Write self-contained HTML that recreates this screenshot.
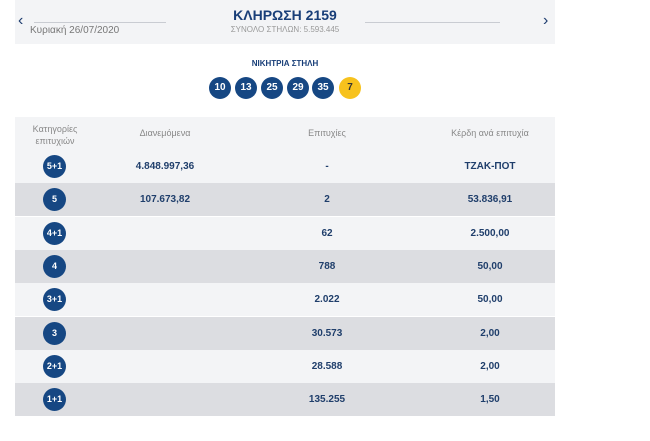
<!DOCTYPE html>
<html><head><meta charset="utf-8"><style>
body{margin:0;width:650px;height:441px;background:#fff;font-family:"Liberation Sans","DejaVu Sans",sans-serif;position:relative;overflow:hidden}
.a{position:absolute}
.hdr{left:15px;top:0;width:540px;height:44px;background:#f3f4f6}
.nav{color:#1d3c6e;font-size:16px;top:12px}
.title{left:0;width:570px;text-align:center;top:7px;font-weight:bold;color:#183e78;font-size:14px}
.sub{left:0;width:570px;text-align:center;top:25px;font-size:8px;color:#999}
.ball{width:22px;height:22px;border-radius:50%;background:#164783;color:#fff;font-weight:bold;font-size:10px;text-align:center;line-height:22px;top:77px}
.row{left:15px;width:540px;height:33px}
.cell{position:absolute;top:0;height:33px;line-height:33px;font-size:10px;font-weight:bold;color:#1f3e6b;text-align:center}
.cat{position:absolute;left:28px;top:5px;width:23px;height:23px;border-radius:50%;background:#164783;color:#fff;font-size:9px;font-weight:bold;text-align:center;line-height:23px}
.hc{position:absolute;font-size:9px;color:#888;text-align:center}
</style></head><body>
<div class="a hdr"></div>
<div class="a nav" style="left:18px">‹</div>
<div class="a nav" style="left:543px">›</div>
<div class="a" style="left:34px;top:22px;width:132px;height:1px;background:#c9ccd2"></div>
<div class="a" style="left:365px;top:22px;width:135px;height:1px;background:#c9ccd2"></div>
<div class="a" style="left:30px;top:25px;font-size:10px;color:#777">Κυριακή 26/07/2020</div>
<div class="a title">ΚΛΗΡΩΣΗ 2159</div>
<div class="a sub">ΣΥΝΟΛΟ ΣΤΗΛΩΝ: 5.593.445</div>
<div class="a" style="left:0;width:570px;text-align:center;top:59px;font-size:8px;font-weight:bold;color:#183e78">ΝΙΚΗΤΡΙΑ ΣΤΗΛΗ</div>
<div class="a ball" style="left:209px">10</div>
<div class="a ball" style="left:235px">13</div>
<div class="a ball" style="left:261px">25</div>
<div class="a ball" style="left:287px">29</div>
<div class="a ball" style="left:312px">35</div>
<div class="a ball" style="left:339px;background:#f7c21d;color:#333">7</div>
<div class="a row" style="top:117px;background:#f3f4f6">
<div class="hc" style="left:5px;width:70px;top:6px;line-height:12px">Κατηγορίες<br>επιτυχιών</div>
<div class="hc" style="left:100px;width:100px;top:11px">Διανεμόμενα</div>
<div class="hc" style="left:262px;width:100px;top:11px">Επιτυχίες</div>
<div class="hc" style="left:420px;width:110px;top:11px">Κέρδη ανά επιτυχία</div>
</div>
<div id="rows"></div>
<script>
const cats=["5+1","5","4+1","4","3+1","3","2+1","1+1"];
const dist=["4.848.997,36","107.673,82","","","","","",""];
const wins=["-","2","62","788","2.022","30.573","28.588","135.255"];
const prize=["ΤΖΑΚ-ΠΟΤ","53.836,91","2.500,00","50,00","50,00","2,00","2,00","1,50"];
const root=document.getElementById('rows');
cats.forEach((c,i)=>{
const r=document.createElement('div');
r.className='a row';
r.style.top=(150+i*33.3)+'px';
r.style.background=i%2?'#dcdde1':'#f3f4f6';


r.innerHTML='<div class="cat">'+c+'</div><div class="cell" style="left:100px;width:100px">'+dist[i]+'</div><div class="cell" style="left:262px;width:100px">'+wins[i]+'</div><div class="cell" style="left:420px;width:110px">'+prize[i]+'</div>';
root.appendChild(r);
});
</script>
</body></html>
